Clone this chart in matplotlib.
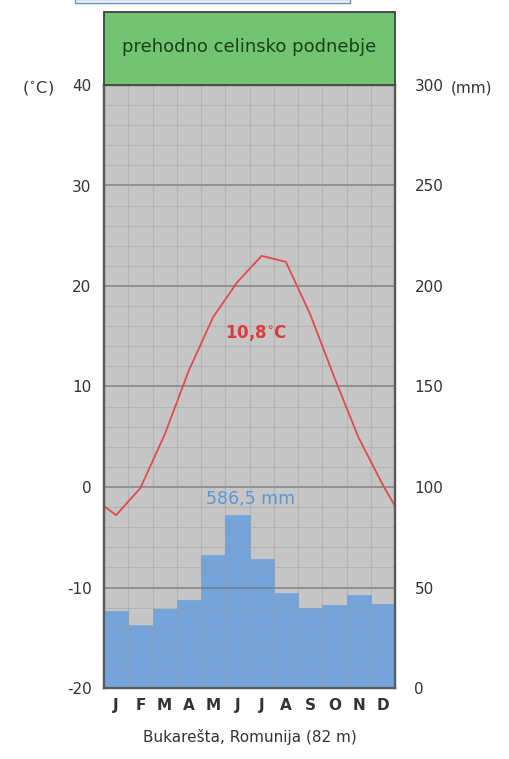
import numpy as np
import matplotlib
matplotlib.use("Agg")
from matplotlib import pyplot as plt
from matplotlib.patches import Rectangle

months = ["J", "F", "M", "A", "M", "J", "J", "A", "S", "O", "N", "D"]
temp = [-2.8, -0.1, 5.2, 11.6, 16.9, 20.4, 23.0, 22.4, 17.2, 10.9, 4.9, 0.2]
temp_edge = -1.9
precip = [38.5, 31.3, 39.3, 43.8, 66.2, 86.0, 64.2, 47.4, 39.8, 41.3, 46.3, 41.8]
left_ticks = [-20, -10, 0, 10, 20, 30, 40]
right_ticks = [0, 50, 100, 150, 200, 250, 300]

title = "prehodno celinsko podnebje"
caption = "Bukarešta, Romunija (82 m)"
mean_temp = "10,8$^{\\circ}$C"
total_precip = "586,5 mm"

W, H = 509, 759
fig = plt.figure(figsize=(W / 100, H / 100), dpi=100)
fig.patch.set_facecolor("white")

x0, x1, ytop, ybot = 104, 395, 85, 688
ax = fig.add_axes([x0 / W, 1 - ybot / H, (x1 - x0) / W, (ybot - ytop) / H])
ax.set_facecolor("#c6c6c6")
ax.set_xlim(0, 12)
ax.set_ylim(-20, 40)

# precipitation on the twin scale (0..300 mm)
ax2 = ax.twinx()
ax2.set_ylim(0, 300)
ax2.bar(np.arange(12) + 0.5, precip, width=1.0, color="#74a4da",
        edgecolor="#74a4da", lw=0.6, zorder=2)

# grid (visible through the bars)
for v in np.arange(-20, 41, 2):
    major = v % 10 == 0
    ax2.axhline((v + 20) * 5, color="#6e6e6e" if major else "#9a9a9a",
                lw=1.2 if major else 0.8, alpha=0.7 if major else 0.4, zorder=3)
for m in range(1, 12):
    ax2.axvline(m, color="#9a9a9a", lw=0.8, alpha=0.4, zorder=3)

# temperature line (drawn in the temperature scale, mapped to mm)
tx = [0] + list(np.arange(12) + 0.5) + [12]
ty = [temp_edge] + temp + [temp_edge]
ax2.plot(tx, [(t + 20) * 5 for t in ty], color="#e04b4b", lw=1.3, zorder=4)

ax2.text(6.27, (15.3 + 20) * 5, mean_temp, color="#dd3b3b", fontsize=12,
         fontweight="bold", ha="center", va="center", zorder=5)
ax2.text(6.05, 94, total_precip, color="#5b96d6", fontsize=12.5,
         ha="center", va="center", zorder=5)

ax.set_yticks(left_ticks)
ax.set_yticklabels([str(t) for t in left_ticks], fontsize=11, color="#333333")
ax2.set_yticks(right_ticks)
ax2.set_yticklabels([str(t) for t in right_ticks], fontsize=11, color="#333333")
ax.set_xticks(np.arange(12) + 0.5)
ax.set_xticklabels(months, fontsize=11, color="#333333", fontweight="bold")
ax.tick_params(length=0, pad=9)
ax2.tick_params(length=0, pad=14)
ax.tick_params(axis="x", pad=7)
ax2.set_zorder(ax.get_zorder() + 1)
ax2.patch.set_visible(False)
for a in (ax, ax2):
    for s in a.spines.values():
        s.set_color("#5a5a5a")
        s.set_linewidth(1.6)
        s.set_zorder(6)

fig.text(38 / W, 1 - 88 / H, "($^{\\circ}$C)", fontsize=11.5, color="#333333", ha="center", va="center")
fig.text(472 / W, 1 - 88 / H, "(mm)", fontsize=11, color="#333333", ha="center", va="center")

# header box
fig.patches.append(Rectangle((x0 / W, 1 - ytop / H), (x1 - x0) / W, (ytop - 12) / H,
                             transform=fig.transFigure, facecolor="#72c472",
                             edgecolor="#4a4a4a", lw=1.4))
fig.text((x0 + x1) / 2 / W, 1 - 47 / H, title, fontsize=13, color="#1a3f1a",
         ha="center", va="center")

# link box at the top edge
fig.patches.append(Rectangle((75 / W, 1 - 3 / H), 275 / W, 4 / H,
                             transform=fig.transFigure, facecolor="#eef4fb",
                             edgecolor="#6b8fc4", lw=1.0))

fig.text(250 / W, 1 - 737 / H, caption, fontsize=11, color="#333333",
         ha="center", va="center")

fig.savefig("out.png", dpi=100)
